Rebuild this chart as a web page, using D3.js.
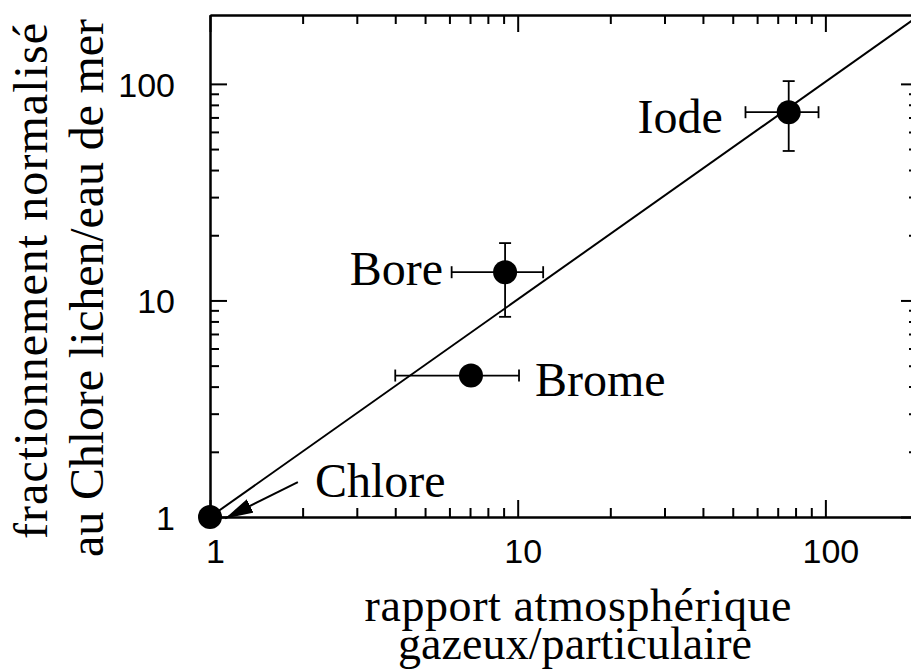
<!DOCTYPE html>
<html>
<head>
<meta charset="utf-8">
<script src="https://cdn.jsdelivr.net/npm/d3@7"></script>
<style>
body { margin: 0; background: #fff; }
</style>
</head>
<body>
<svg id="chart" width="911" height="672"></svg>
<script>
// elements and measured values
let names = ['Chlore', 'Brome', 'Bore', 'Iode'];
let ratio = [1, 7.05, 9.1, 76];
let ratioLow = [null, 4.0, 6.1, 55];
let ratioHigh = [null, 10.1, 12.1, 95];
let fract = [1, 4.5, 13.5, 74];
let fractLow = [null, null, 8.4, 49];
let fractHigh = [null, null, 18.4, 103];

// fitted line
let fitX = [1, 200];
let fitY = [1, 205];

// arrow pointing at Chlore
let arrowFrom = [1.93, 1.45];
let arrowTo = [1.12, 0.985];

let majorTicks = [1, 10, 100];
let majorLabels = ['1', '10', '100'];
let minorTicks = [2, 3, 4, 5, 6, 7, 8, 9, 20, 30, 40, 50, 60, 70, 80, 90];

let xTitle = ['rapport atmosphérique', 'gazeux/particulaire'];
let yTitle = ['fractionnement normalisé', 'au Chlore lichen/eau de mer'];

// label placement (px offset from point, anchor)
let labelPos = {
    Chlore: [105, -20, 'start'],
    Brome: [64, 20, 'start'],
    Bore: [-62, 13, 'end'],
    Iode: [-66, 21, 'end']
};

let serif = '"Liberation Serif", "Times New Roman", serif';
let sans = '"Liberation Sans", Arial, sans-serif';

let svg = d3.select('#chart');

let pLeft = 210, pRight = 918, pTop = 15, pBottom = 517;

let x = d3.scaleLog().domain([1, 200]).range([pLeft, pRight]);
let y = d3.scaleLog().domain([1, 208]).range([pBottom, pTop]);

function styleAxis(g) {
    g.selectAll('path').attr('stroke-width', 2);
    g.selectAll('line').attr('stroke-width', 2);
}

function addAxis(axisFn, scale, transform, withLabels) {
    let major = axisFn(scale).tickValues(majorTicks).tickSize(-17).tickSizeOuter(0);
    if (withLabels) {
        major.tickFormat(function (d, i) { return majorLabels[i]; });
    } else {
        major.tickFormat('');
    }
    let g = svg.append('g').attr('transform', transform).call(major);
    let gm = svg.append('g').attr('transform', transform)
        .call(axisFn(scale).tickValues(minorTicks).tickSize(-9).tickSizeOuter(0).tickFormat(''));
    styleAxis(g);
    styleAxis(gm);
    g.attr('font-family', sans).attr('font-size', 34);
    return g;
}

let gx = addAxis(d3.axisBottom, x, `translate(0,${pBottom})`, true);
gx.selectAll('text').attr('y', 22).attr('dx', 5);
addAxis(d3.axisTop, x, `translate(0,${pTop})`, false);

let gy = addAxis(d3.axisLeft, y, `translate(${pLeft},0)`, true);
gy.selectAll('text').attr('x', -35).attr('dy', '0.36em');
addAxis(d3.axisRight, y, `translate(${pRight},0)`, false);

// fitted line
let fitLine = d3.line()
    .x(function (d) { return x(d[0]); })
    .y(function (d) { return y(d[1]); });
svg.append('path')
    .datum(d3.zip(fitX, fitY))
    .attr('d', fitLine)
    .attr('fill', 'none')
    .attr('stroke', '#000')
    .attr('stroke-width', 2);

// error bars
let cap = 6;
let pts = names.map(function (n, i) {
    return {name: n, x: ratio[i], y: fract[i],
        xl: ratioLow[i], xh: ratioHigh[i], yl: fractLow[i], yh: fractHigh[i]};
});

let eb = svg.append('g').attr('stroke', '#000').attr('stroke-width', 1.8);
pts.forEach(function (d) {
    if (d.xl != null) {
        eb.append('line').attr('x1', x(d.xl)).attr('x2', x(d.xh))
            .attr('y1', y(d.y)).attr('y2', y(d.y));
        [d.xl, d.xh].forEach(function (v) {
            eb.append('line').attr('x1', x(v)).attr('x2', x(v))
                .attr('y1', y(d.y) - cap).attr('y2', y(d.y) + cap);
        });
    }
    if (d.yl != null) {
        eb.append('line').attr('x1', x(d.x)).attr('x2', x(d.x))
            .attr('y1', y(d.yl)).attr('y2', y(d.yh));
        [d.yl, d.yh].forEach(function (v) {
            eb.append('line').attr('x1', x(d.x) - cap).attr('x2', x(d.x) + cap)
                .attr('y1', y(v)).attr('y2', y(v));
        });
    }
});

// points
svg.selectAll('.pt')
    .data(pts)
    .enter()
    .append('circle')
    .attr('class', 'pt')
    .attr('cx', function (d) { return x(d.x); })
    .attr('cy', function (d) { return y(d.y); })
    .attr('r', 12)
    .attr('fill', '#000');

// point labels
svg.selectAll('.lbl')
    .data(pts)
    .enter()
    .append('text')
    .attr('class', 'lbl')
    .attr('x', function (d) { return x(d.x) + labelPos[d.name][0]; })
    .attr('y', function (d) { return y(d.y) + labelPos[d.name][1]; })
    .attr('text-anchor', function (d) { return labelPos[d.name][2]; })
    .attr('font-family', serif)
    .attr('font-size', 48)
    .text(function (d) { return d.name; });

// arrow to Chlore
svg.append('defs').append('marker')
    .attr('id', 'head')
    .attr('viewBox', '0 0 10 10')
    .attr('preserveAspectRatio', 'none')
    .attr('refX', 10).attr('refY', 5)
    .attr('markerWidth', 28).attr('markerHeight', 15)
    .attr('markerUnits', 'userSpaceOnUse')
    .attr('orient', 'auto')
    .append('path')
    .attr('d', 'M0,0L10,5L0,10Z')
    .attr('fill', '#000');

svg.append('line')
    .attr('x1', x(arrowFrom[0])).attr('y1', y(arrowFrom[1]))
    .attr('x2', x(arrowTo[0])).attr('y2', y(arrowTo[1]))
    .attr('stroke', '#000')
    .attr('stroke-width', 2)
    .attr('marker-end', 'url(#head)');

// axis titles
svg.append('text')
    .attr('x', 578).attr('y', 621)
    .attr('text-anchor', 'middle')
    .attr('font-family', serif).attr('font-size', 46)
    .attr('textLength', 427).attr('lengthAdjust', 'spacing')
    .text(xTitle[0]);
svg.append('text')
    .attr('x', 575).attr('y', 659)
    .attr('text-anchor', 'middle')
    .attr('font-family', serif).attr('font-size', 46)
    .attr('textLength', 354).attr('lengthAdjust', 'spacing')
    .text(xTitle[1]);

svg.append('text')
    .attr('transform', 'translate(47,281) rotate(-90)')
    .attr('text-anchor', 'middle')
    .attr('font-family', serif).attr('font-size', 48)
    .attr('textLength', 516).attr('lengthAdjust', 'spacing')
    .text(yTitle[0]);
svg.append('text')
    .attr('transform', 'translate(103,288) rotate(-90)')
    .attr('text-anchor', 'middle')
    .attr('font-family', serif).attr('font-size', 48)
    .attr('textLength', 538).attr('lengthAdjust', 'spacing')
    .text(yTitle[1]);
</script>
</body>
</html>
